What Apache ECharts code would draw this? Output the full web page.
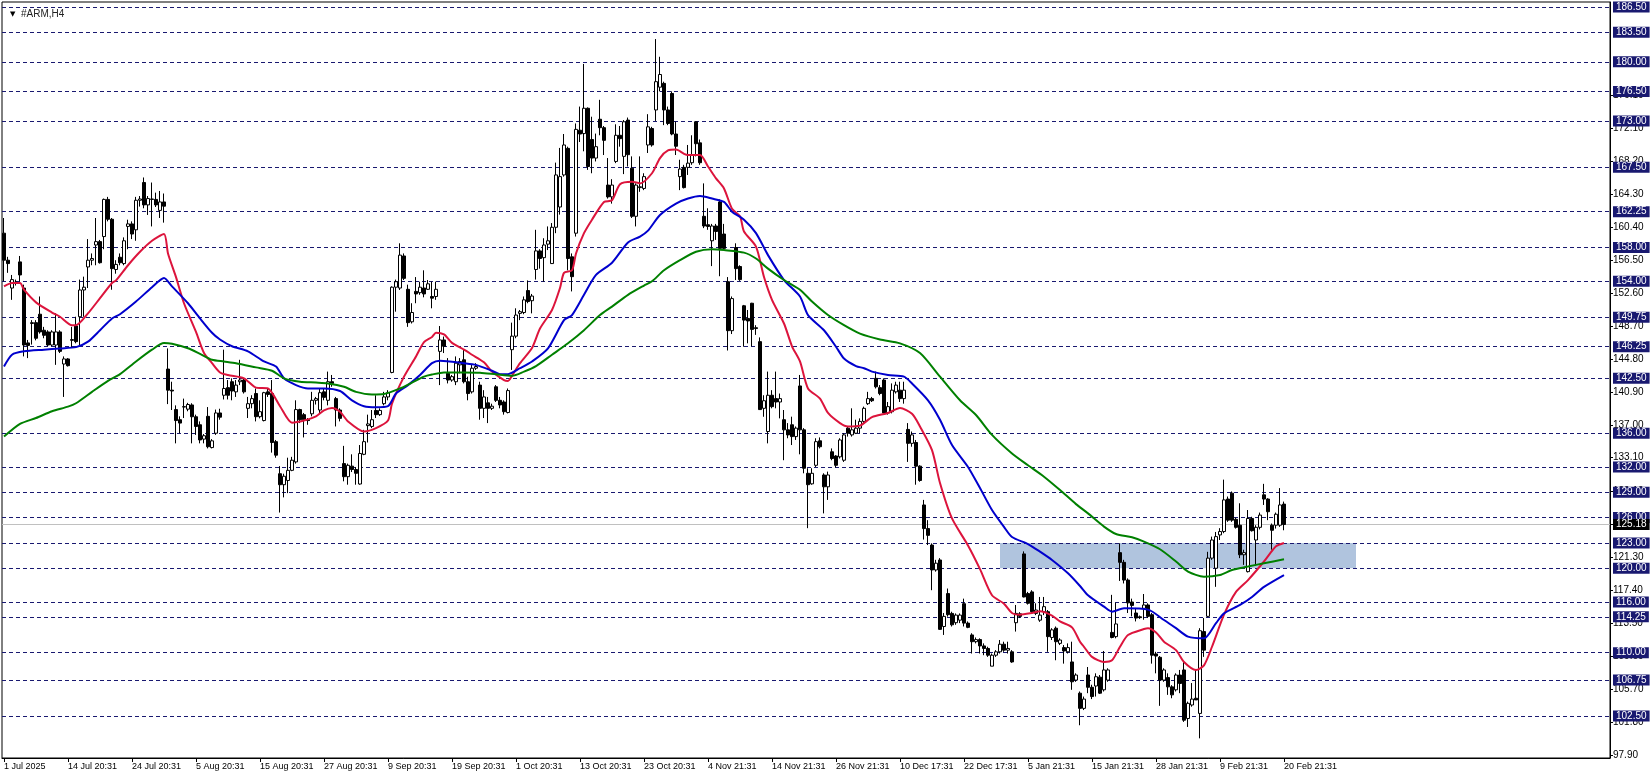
<!DOCTYPE html>
<html><head><meta charset="utf-8">
<script src="https://cdn.jsdelivr.net/npm/echarts@6/dist/echarts.min.js"></script>
<style>html,body{margin:0;padding:0;background:#fff}#c{width:1652px;height:779px}</style>
</head><body><div id="c"></div>
<script>
// OHLC per H4 bar (index 0..320)
const opens = [159.7,156.5,153.2,153.8,156.3,153.2,146.7,149.0,149.1,150.1,148.2,148.0,146.45,146.45,148.0,144.2,144.8,147.0,148.7,149.8,152.97,155.7,156.5,158.3,158.7,159.3,163.7,161.35,155.4,156.85,156.1,160.5,160.8,160.1,163.6,165.7,163.05,163.7,163.7,162.4,163.4,143.6,141.1,138.8,137.6,139.1,138.85,139.35,137.95,137.0,135.3,138.0,134.3,136.0,138.4,140.5,141.4,142.1,140.9,142.1,142.3,138.95,139.5,140.7,137.96,137.5,140.9,140.7,135.0,131.2,129.9,130.4,131.6,132.6,138.8,138.2,137.6,138.3,139.9,138.75,140.9,139.9,142.1,140.1,138.75,132.4,130.85,132.1,131.7,129.98,133.5,136.9,136.8,138.7,138.2,139.5,140.3,143.2,153.3,153.2,157.0,153.05,149.2,152.8,152.65,153.2,153.05,152.2,152.2,145.7,147.05,143.1,142.3,142.1,144.1,144.7,142.1,140.9,143.7,141.7,138.95,139.6,138.95,141.5,139.9,139.7,138.45,145.9,147.5,150.2,150.3,152.9,151.7,155.4,157.6,156.8,158.4,156.1,160.4,162.8,166.6,169.75,156.9,159.7,171.9,171.5,174.5,170.8,168.6,173.2,172.2,165.4,164.0,168.2,171.3,168.8,173.1,167.4,161.7,165.1,165.0,170.15,172.1,174.3,177.0,177.45,174.3,176.25,171.45,166.4,167.5,167.5,168.05,172.9,170.4,161.7,160.7,158.8,160.55,163.4,159.6,153.95,148.15,158.0,155.75,151.1,149.6,151.4,148.5,146.85,138.95,136.2,140.5,140.1,139.7,137.6,136.4,137.0,135.6,141.6,136.4,131.25,130.0,132.2,135.1,131.05,129.65,133.8,133.3,133.2,132.8,136.6,135.8,136.0,136.6,137.4,139.5,140.1,142.5,141.4,142.3,138.4,138.55,140.9,141.1,140.1,136.45,134.8,134.9,132.1,127.5,124.7,122.75,119.8,120.98,113.1,117.0,114.65,113.55,113.85,115.8,113.5,112.1,111.3,111.55,110.8,110.5,108.4,109.7,110.1,111.0,110.3,110.1,113.55,114.6,121.7,117.0,117.2,114.65,113.85,114.85,114.85,111.8,112.9,111.1,110.6,110.1,108.9,106.75,105.2,103.4,107.35,105.9,106.05,107.1,105.6,106.75,112.4,111.9,121.85,120.7,118.6,116.0,114.7,114.25,115.25,115.65,114.5,109.85,109.45,106.75,107.05,105.95,105.6,107.35,107.95,102.2,103.8,104.6,102.8,112.5,114.3,121.2,120.0,123.95,124.35,128.2,128.9,125.8,125.1,121.6,119.6,125.9,123.35,124.85,128.7,128.2,125.1,125.1,125.1,127.6];
const highs = [161.5,156.9,154.75,154.2,157.0,153.6,147.05,149.4,149.4,152.2,148.6,148.2,148.2,150.2,148.2,145.1,144.9,148.6,149.8,154.2,154.55,159.0,157.3,161.5,158.9,163.8,164.0,161.5,156.5,157.3,159.2,161.3,161.1,164.0,164.1,166.3,164.1,165.7,164.5,164.7,164.4,146.05,142.1,139.3,138.0,140.1,139.6,139.55,138.2,137.4,135.9,139.1,135.3,138.8,138.9,145.9,142.3,142.5,142.3,144.7,142.5,140.3,140.5,141.3,139.9,140.9,141.3,142.3,135.2,132.1,131.2,133.1,133.2,139.9,138.9,138.4,137.8,140.9,140.3,141.3,141.3,143.3,142.9,140.3,138.95,134.5,132.4,133.5,132.0,134.6,136.4,138.2,138.75,140.5,138.95,140.9,141.1,153.4,154.2,158.5,157.3,153.6,151.4,154.5,153.95,155.3,154.15,153.95,153.96,148.7,147.45,144.9,142.9,145.1,144.9,145.9,142.7,144.1,144.3,142.1,141.1,140.3,139.5,141.7,140.3,139.9,141.3,149.1,150.8,150.6,152.2,154.1,152.5,160.1,157.8,159.1,160.5,160.9,168.06,169.8,171.45,169.95,157.3,172.7,174.7,179.75,174.6,173.5,171.5,175.5,172.4,168.6,166.1,172.6,172.4,173.1,173.4,168.8,165.6,168.8,166.8,173.8,172.3,182.7,180.6,177.65,174.7,176.5,172.9,168.4,167.8,170.15,171.3,172.9,170.8,165.6,162.65,160.8,160.8,163.7,160.8,154.5,152.2,158.5,155.9,151.2,150.6,151.45,148.8,147.35,140.5,143.3,141.1,143.3,140.7,138.75,137.2,137.96,136.8,142.9,136.6,131.85,131.85,135.4,135.5,131.25,131.45,134.2,133.4,135.4,136.0,136.8,138.95,137.6,137.76,139.15,140.9,140.3,143.3,141.7,142.5,139.7,141.9,142.1,142.1,142.1,137.2,136.2,135.2,132.2,128.1,125.7,122.95,121.0,121.2,114.7,117.6,114.85,114.65,114.65,116.4,113.7,112.3,111.8,111.7,111.1,110.7,109.9,110.3,111.5,111.3,111.3,110.3,115.65,114.8,122.0,117.2,117.4,115.85,116.6,116.6,115.05,112.9,113.1,111.7,110.9,111.1,111.3,107.55,105.4,104.8,108.3,106.2,107.55,107.35,110.2,108.15,116.85,115.9,122.95,121.0,118.8,116.4,115.3,114.4,116.95,115.85,114.7,110.1,109.6,108.15,107.55,106.15,107.55,107.95,108.9,104.2,106.4,107.95,112.9,114.1,121.95,123.75,124.3,124.75,130.5,128.5,129.1,126.0,127.7,122.2,126.9,126.1,125.1,126.6,130.0,128.3,125.3,126.6,129.5,127.9];
const lows = [154.0,155.0,151.8,153.5,154.0,145.1,144.9,146.5,147.0,147.8,147.25,146.3,146.3,144.1,145.5,140.3,143.9,146.1,146.65,146.3,149.8,153.2,155.9,155.9,156.1,157.8,161.1,153.0,154.9,155.9,155.9,157.8,159.0,158.8,162.85,162.65,161.86,160.5,162.8,161.5,160.95,139.45,138.75,134.8,136.0,137.8,138.6,134.8,135.8,134.8,134.8,134.2,134.2,135.8,137.6,140.0,140.0,139.9,140.3,141.7,140.7,137.8,138.95,137.4,137.76,137.4,140.3,133.7,133.1,126.6,128.4,128.9,131.5,132.4,137.2,135.5,137.0,138.0,139.4,138.35,139.9,139.3,141.5,136.8,137.4,130.3,129.9,131.4,129.9,129.9,133.4,134.9,136.6,137.8,138.05,139.3,139.9,143.1,150.4,152.97,154.15,148.6,149.0,151.4,152.4,152.1,152.97,150.8,151.8,141.7,145.5,141.9,142.1,141.7,143.1,141.9,139.9,140.7,143.5,137.6,137.8,137.2,138.75,139.7,138.95,138.2,138.35,143.5,147.25,149.4,150.1,151.4,150.2,154.2,155.5,153.96,157.7,156.05,159.7,161.9,166.4,155.3,152.8,159.3,170.5,169.4,167.2,166.8,168.2,171.3,168.96,163.8,163.2,168.0,169.95,166.7,167.6,161.5,160.5,164.6,164.8,169.2,169.95,173.0,176.5,172.5,172.5,171.3,168.96,164.8,165.0,166.6,167.8,168.8,167.8,160.3,160.1,155.8,158.9,154.6,157.7,145.8,147.75,154.15,154.05,146.25,146.65,146.3,147.65,138.75,137.95,134.8,138.95,138.95,137.76,132.8,135.4,134.6,135.2,133.5,131.25,124.75,129.9,132.0,134.2,126.5,128.1,132.8,131.95,133.0,132.6,135.6,135.6,135.9,136.0,137.2,139.35,139.7,141.3,140.5,138.35,138.2,138.35,140.7,139.7,139.5,132.6,134.4,129.9,130.25,123.4,122.75,117.4,119.6,112.7,112.1,114.27,113.1,113.3,113.5,113.1,112.9,109.9,111.1,109.9,109.7,109.5,108.4,109.5,109.9,110.1,109.9,108.8,112.5,114.1,116.55,115.7,114.65,114.45,113.65,114.45,110.1,111.5,109.1,110.9,108.7,109.9,105.6,106.55,101.4,103.2,105.2,104.5,104.8,105.1,105.4,106.55,111.7,111.7,118.5,118.2,114.7,114.3,113.7,114.0,113.9,114.1,108.7,107.55,103.7,106.55,105.0,104.6,105.4,105.2,101.8,101.2,103.6,104.4,99.85,109.5,114.2,121.0,117.8,123.35,124.15,125.5,125.5,124.7,121.2,120.4,119.5,124.35,120.3,124.6,127.5,125.7,122.2,124.7,124.9,124.5];
const closes = [156.5,156.1,154.2,153.9,154.75,146.45,146.4,149.1,147.25,148.0,147.6,146.45,148.0,148.0,145.7,144.8,144.0,147.1,146.85,152.97,153.3,156.5,156.7,158.7,156.2,163.7,161.35,155.5,156.0,156.2,158.8,160.8,159.6,163.6,163.75,163.05,163.8,163.75,163.05,163.4,162.9,141.1,141.0,137.5,137.2,139.15,139.4,137.95,136.8,135.2,135.7,134.4,135.1,138.4,137.9,141.3,140.5,141.0,141.7,142.3,140.9,139.5,140.1,137.96,138.55,140.8,140.6,134.9,133.4,129.9,130.9,131.6,132.8,138.8,137.6,137.6,137.5,139.9,140.1,140.8,140.25,142.1,141.9,138.75,137.76,130.85,132.2,131.7,131.25,133.6,135.0,137.1,137.6,138.2,138.7,140.3,140.8,153.3,153.95,157.1,154.35,149.1,150.3,152.5,153.3,152.5,153.7,152.0,153.05,147.05,146.3,142.3,142.7,144.3,144.5,142.1,140.7,143.7,143.9,138.95,140.3,138.95,139.2,139.9,139.35,138.55,141.05,147.5,150.0,150.4,151.8,151.6,152.25,157.6,156.7,158.3,158.8,160.4,166.6,166.4,170.15,156.7,154.55,172.0,171.45,174.5,167.6,168.6,169.95,172.2,170.7,164.0,165.4,171.3,170.9,172.9,169.0,161.7,165.4,165.2,166.4,172.3,170.15,177.65,178.5,174.3,172.7,171.45,170.0,167.3,165.1,168.0,168.96,170.3,168.05,160.55,160.5,160.55,159.9,157.9,157.9,148.15,151.95,155.5,154.2,149.4,149.3,148.3,148.4,138.8,139.85,140.5,139.15,139.7,140.1,136.4,135.8,135.6,136.6,136.4,131.85,129.9,131.25,135.0,134.4,129.65,131.05,133.0,132.2,135.2,135.8,136.0,136.4,136.6,137.4,138.95,140.1,139.85,141.5,140.7,138.4,139.15,141.1,141.7,140.1,141.1,134.8,135.8,132.1,130.4,124.7,123.9,119.8,120.6,112.76,114.3,114.5,113.3,114.45,114.45,113.5,113.0,111.3,111.55,110.8,110.5,109.7,109.7,110.1,111.0,110.3,110.5,108.9,114.65,114.3,116.6,115.85,114.85,115.05,114.45,115.45,111.9,112.7,111.3,111.5,110.2,110.6,106.55,107.35,103.4,104.5,105.9,104.8,107.15,105.2,107.95,107.95,111.8,113.4,120.7,118.6,115.9,115.6,114.1,114.15,115.65,114.3,109.7,109.6,106.75,107.95,105.95,105.0,107.35,106.35,102.0,104.0,104.5,104.4,112.6,110.3,121.2,123.35,123.75,124.35,128.1,125.7,125.7,124.85,121.6,121.85,125.9,124.45,124.85,126.3,128.2,126.7,124.5,126.4,127.5,125.18];

// moving averages: [barIndex, price]
const maFast = [[0,153.4],[2,153.8],[4,153.8],[5,153.0],[8,151.5],[12,150.3],[14,149.8],[17,148.8],[18,148.8],[21,150.2],[24,152.0],[27,153.8],[28,154.1],[31,155.9],[34,157.5],[37,158.8],[40,159.6],[41,157.3],[43,154.5],[45,151.4],[48,148.0],[50,145.5],[52,144.3],[54,143.2],[56,142.9],[60,142.5],[63,141.4],[66,141.3],[69,139.2],[72,137.25],[75,137.5],[78,138.0],[80,138.7],[82,139.0],[84,138.55],[86,137.4],[90,136.2],[93,136.6],[96,137.5],[97,139.5],[100,142.7],[103,145.1],[105,146.8],[107,147.4],[108,147.9],[110,147.7],[112,146.7],[115,145.9],[117,145.3],[120,144.4],[122,143.3],[125,142.3],[126,142.2],[127,142.8],[129,144.3],[132,146.1],[134,148.4],[137,150.6],[139,153.2],[140,155.0],[142,155.3],[143,157.3],[145,159.7],[147,161.3],[150,163.4],[152,163.6],[154,165.5],[157,165.8],[159,165.6],[162,166.8],[164,168.6],[166,169.5],[168,169.6],[170,169.1],[171,168.96],[174,168.96],[176,167.6],[178,166.2],[180,165.0],[182,162.6],[184,161.7],[185,159.9],[188,158.1],[190,154.5],[192,151.8],[195,149.0],[197,146.3],[199,144.5],[201,141.3],[204,140.1],[206,138.4],[209,137.2],[211,136.8],[214,136.9],[217,137.9],[221,138.4],[224,139.0],[227,138.3],[229,136.8],[232,134.0],[234,130.1],[237,125.9],[241,122.7],[244,119.9],[247,116.8],[250,115.8],[252,114.7],[254,114.5],[257,114.7],[259,114.9],[262,114.4],[264,113.7],[267,113.0],[269,111.3],[270,110.7],[272,109.5],[275,108.9],[277,109.1],[279,110.7],[281,112.1],[285,112.8],[286,112.9],[288,112.4],[290,111.3],[293,110.3],[295,108.9],[298,107.95],[300,108.5],[302,110.7],[305,114.5],[308,117.2],[311,118.6],[315,120.8],[318,122.6],[320,123.0]];
const maMid = [[0,143.9],[2,145.3],[5,145.7],[10,145.9],[14,146.05],[18,146.2],[21,146.85],[24,148.2],[27,149.6],[29,150.1],[33,151.6],[37,153.3],[40,154.4],[42,153.4],[46,151.4],[49,149.6],[52,147.9],[54,147.1],[57,146.3],[61,145.7],[65,144.5],[68,143.9],[70,142.5],[73,141.7],[76,141.3],[80,141.3],[84,141.0],[87,139.9],[90,139.2],[93,139.07],[96,139.2],[98,140.7],[101,141.7],[104,142.9],[107,144.3],[109,144.6],[115,144.3],[118,144.1],[122,143.4],[124,143.0],[126,143.0],[129,143.7],[132,144.5],[136,146.06],[140,149.4],[142,150.0],[145,152.4],[148,154.75],[152,156.2],[156,158.6],[159,159.3],[161,160.0],[164,161.85],[168,163.2],[171,163.8],[174,164.1],[177,163.8],[180,163.4],[182,162.25],[185,161.3],[188,159.7],[191,157.1],[195,154.15],[199,152.2],[201,150.0],[205,148.2],[208,146.25],[210,144.85],[213,143.96],[215,143.7],[217,143.3],[221,142.9],[225,142.7],[227,141.9],[231,139.9],[234,137.6],[237,134.6],[241,132.0],[244,129.5],[247,126.9],[250,124.9],[252,123.7],[256,122.87],[259,121.97],[262,120.98],[266,119.4],[269,117.9],[271,116.8],[275,115.45],[277,114.86],[280,115.25],[286,115.1],[290,113.87],[293,112.9],[296,111.9],[300,111.7],[303,113.5],[305,114.66],[309,115.65],[312,116.6],[315,117.8],[320,119.2]];
const maSlow = [[0,135.6],[4,137.1],[8,137.8],[12,138.6],[16,139.15],[18,139.55],[22,140.9],[26,142.2],[29,143.0],[33,144.5],[37,145.9],[40,146.7],[42,146.6],[46,146.06],[49,145.4],[52,144.7],[55,144.5],[58,144.3],[63,143.8],[67,143.4],[70,142.5],[74,142.1],[78,142.0],[81,141.9],[85,141.5],[88,140.9],[92,140.6],[95,140.65],[99,141.3],[102,142.0],[105,142.7],[107,142.95],[110,143.2],[115,143.2],[119,143.17],[123,142.98],[127,142.8],[130,143.3],[133,143.96],[137,145.3],[141,146.65],[145,148.2],[149,150.0],[152,151.0],[156,152.4],[160,153.5],[162,154.0],[165,155.3],[169,156.5],[173,157.5],[177,157.8],[180,157.7],[185,157.4],[188,156.7],[191,155.5],[195,154.15],[199,153.0],[202,151.6],[206,150.0],[210,148.8],[214,147.8],[219,147.1],[224,146.65],[229,145.5],[234,142.7],[239,139.9],[243,138.16],[247,135.8],[252,133.6],[256,132.2],[260,130.85],[264,129.27],[268,127.6],[271,126.5],[275,124.93],[278,124.06],[282,123.67],[285,123.15],[289,122.25],[293,120.8],[296,119.6],[300,119.0],[304,119.2],[307,119.8],[311,120.2],[315,120.6],[320,121.06]];

// horizontal levels, current price, zone
const levels = [186.5,183.5,180,176.5,173,167.5,162.25,158,154,149.75,146.25,142.5,136,132,129,126,123,120,116,114.25,110,106.75,102.5];
const lastPrice = 125.18;
const zoneBars = [249, 338];
const zonePrices = [120, 123];

// axis tick labels
const priceTicks = [97.9,101.8,105.7,109.6,113.5,117.4,121.3,125.2,129.1,133.1,137.0,140.9,144.8,148.7,152.6,156.5,160.4,164.3,168.2,172.1,176.1];
const timeLabels = ['1 Jul 2025','14 Jul 20:31','24 Jul 20:31','5 Aug 20:31','15 Aug 20:31','27 Aug 20:31','9 Sep 20:31','19 Sep 20:31','1 Oct 20:31','13 Oct 20:31','23 Oct 20:31','4 Nov 21:31','14 Nov 21:31','26 Nov 21:31','10 Dec 17:31','22 Dec 17:31','5 Jan 21:31','15 Jan 21:31','28 Jan 21:31','9 Feb 21:31','20 Feb 21:31'];
const labelEvery = 16;
const totalSlots = 402;

const cats = [];
for (let i = 0; i < totalSlots; i++) {
  cats.push(i % labelEvery === 0 && i / labelEvery < timeLabels.length ? timeLabels[i / labelEvery] : 'b' + i);
}
const candles = opens.map((o, i) => [o, closes[i], lows[i], highs[i]]);
const showTick = (idx) => idx % labelEvery === 0 && idx / labelEvery < timeLabels.length;
const NAVY = '#191970';
const FONT = 'Liberation Sans';

const chart = echarts.init(document.getElementById('c'), null, {renderer: 'canvas'});
chart.setOption({
  animation: false,
  backgroundColor: '#fff',
  title: {
    text: '{t|▼}  #ARM,H4', left: 5, top: 4,
    textStyle: {fontSize: 10, fontWeight: 'normal', color: '#222', fontFamily: FONT,
      rich: {t: {fontSize: 7, color: '#000', fontFamily: 'DejaVu Sans'}}}
  },
  grid: {left: 2, right: 42, top: 2, bottom: 21, show: true, borderColor: '#000', borderWidth: 1, backgroundColor: '#fff'},
  xAxis: {
    type: 'category', data: cats, boundaryGap: true,
    axisLine: {show: true, lineStyle: {color: '#000', width: 1}},
    axisTick: {show: true, alignWithLabel: true, interval: showTick, length: 4, lineStyle: {color: '#000'}},
    axisLabel: {interval: showTick, align: 'left', fontSize: 9, color: '#000', margin: 4, fontFamily: FONT,
      formatter: (v) => (v.charAt(0) === 'b' ? '' : v)},
    splitLine: {show: false}
  },
  yAxis: {
    type: 'value', position: 'right', min: 97.52, max: 187.09, scale: true,
    axisLine: {show: true, lineStyle: {color: '#000', width: 1}},
    axisTick: {show: true, customValues: priceTicks, length: 3, lineStyle: {color: '#000'}},
    axisLabel: {customValues: priceTicks, fontSize: 10, color: '#000', margin: 3, fontFamily: FONT,
      formatter: (v) => v.toFixed(2)},
    splitLine: {show: false}
  },
  series: [
    {
      type: 'line', name: 'zone', data: [], z: 1, silent: true, clip: false,
      markArea: {silent: true, itemStyle: {color: '#b0c4de'},
        data: [[{xAxis: zoneBars[0], yAxis: zonePrices[0]}, {xAxis: zoneBars[1], yAxis: zonePrices[1]}]]}
    },
    {
      type: 'line', name: 'levels', data: [], z: 2, silent: true, clip: false,
      markLine: {
        silent: true, symbol: ['none', 'none'], animation: false,
        lineStyle: {type: [4, 3], color: NAVY, width: 1},
        label: {show: true, position: 'end', distance: 3, formatter: (p) => p.value.toFixed(2),
          backgroundColor: NAVY, color: '#fff', fontSize: 10, fontFamily: FONT, padding: [1, 3, 0, 3], lineHeight: 10},
        data: levels.map((v) => ({yAxis: v}))
      }
    },
    {
      type: 'line', name: 'price', data: [], z: 3, silent: true, clip: false,
      markLine: {
        silent: true, symbol: ['none', 'none'], animation: false,
        lineStyle: {type: 'solid', color: '#c0c0c0', width: 1},
        label: {show: true, position: 'end', distance: 3, formatter: (p) => p.value.toFixed(2),
          backgroundColor: '#000', color: '#fff', fontSize: 10, fontFamily: FONT, padding: [1, 3, 0, 3], lineHeight: 10},
        data: [{yAxis: lastPrice}]
      }
    },
    {
      type: 'candlestick', name: '#ARM,H4', data: candles, barWidth: 3, z: 5,
      itemStyle: {color: '#fff', color0: '#000', borderColor: '#000', borderColor0: '#000', borderWidth: 1}
    },
    {type: 'line', name: 'fast', data: maFast, z: 6, symbol: 'none', smooth: 0.25,
      lineStyle: {color: '#dc143c', width: 2}},
    {type: 'line', name: 'mid', data: maMid, z: 6, symbol: 'none', smooth: 0.25,
      lineStyle: {color: '#0000cd', width: 2}},
    {type: 'line', name: 'slow', data: maSlow, z: 6, symbol: 'none', smooth: 0.25,
      lineStyle: {color: '#008000', width: 2}}
  ]
});
</script>
</body></html>
